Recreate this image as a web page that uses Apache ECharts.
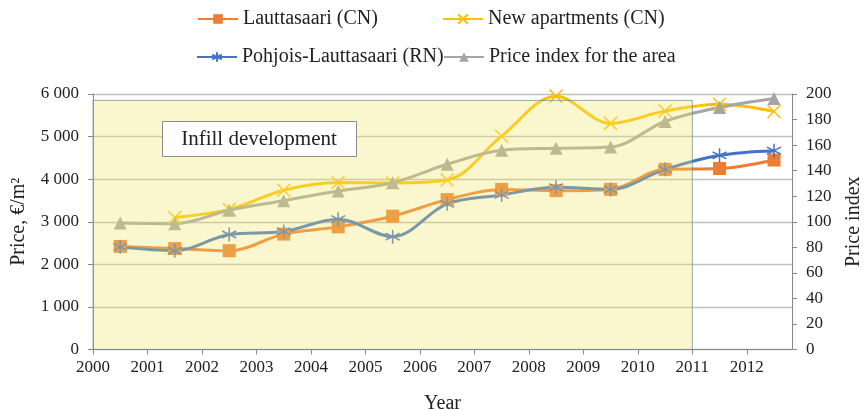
<!DOCTYPE html>
<html>
<head>
<meta charset="utf-8">
<script src="https://cdn.jsdelivr.net/npm/echarts@6/dist/echarts.min.js"></script>
<style>html,body{margin:0;padding:0;background:#fff;}#c{width:866px;height:410px;}</style>
</head>
<body>
<div id="c"></div>
<script>
// ---- data ----
const years = [2000.5, 2001.5, 2002.5, 2003.5, 2004.5, 2005.5, 2006.5, 2007.5, 2008.5, 2009.5, 2010.5, 2011.5, 2012.5];
const lauttasaari = [2420, 2370, 2320, 2710, 2880, 3130, 3520, 3760, 3730, 3760, 4230, 4250, 4450];
const newApartments = [null, 3100, 3290, 3740, 3920, 3910, 3980, 5010, 5950, 5310, 5600, 5760, 5590];
const pohjois = [2410, 2320, 2700, 2770, 3060, 2650, 3420, 3630, 3810, 3760, 4230, 4560, 4670];
const priceIndex = [99, 98.5, 109, 116.5, 124, 130.5, 145, 156, 157.5, 158.5, 178.5, 189.5, 196.5];
const seriesNames = ['Lauttasaari (CN)', 'New apartments (CN)', 'Pohjois-Lauttasaari (RN)', 'Price index for the area'];
const shadeYears = [2000, 2011];
const shadePrice = [0, 5850];
const annotation = 'Infill development';
const xTicks = {min: 2000, max: 2012.83, step: 1};
const leftTicks = {min: 0, max: 6000, step: 1000};
const rightTicks = {min: 0, max: 200, step: 20};

const pair = (arr) => years.map((y, i) => [y, arr[i]]);
const font = 'Liberation Serif';
const C = {orange: '#ED7D31', yellow: '#FFC000', blue: '#4472C4', grey: '#A5A5A5'};
const xPath = 'path://M0,0L10,10M10,0L0,10';
const starPath = 'path://M5,0L5,10M0.7,2.5L9.3,7.5M0.7,7.5L9.3,2.5';

const chart = echarts.init(document.getElementById('c'), null, {renderer: 'canvas'});
const lineBase = {type: 'line', smooth: 0.35, z: 2, connectNulls: false};
const legendBase = {textStyle: {fontFamily: font, fontSize: 20, color: '#222'}, itemWidth: 40, itemHeight: 12, selectedMode: false, padding: 0, itemGap: 4};
const titleStyle = {fontFamily: font, fontSize: 20, color: '#222'};
const tickStyle = {fontFamily: font, fontSize: 17, color: '#222'};
chart.setOption({
  animation: false,
  grid: {left: 93, right: 74, top: 94, bottom: 60.5, outerBoundsMode: 'none', containLabel: false},
  legend: [
    Object.assign({data: [seriesNames[0]], left: 197, top: 9}, legendBase),
    Object.assign({data: [seriesNames[1]], left: 442, top: 9}, legendBase),
    Object.assign({data: [seriesNames[2]], left: 196, top: 47}, legendBase),
    Object.assign({data: [seriesNames[3]], left: 443, top: 47}, legendBase)
  ],
  xAxis: {
    type: 'value', min: xTicks.min, max: xTicks.max, interval: xTicks.step,
    name: 'Year', nameLocation: 'middle', nameGap: 44,
    nameTextStyle: titleStyle,
    axisLine: {lineStyle: {color: '#888', width: 1}},
    axisTick: {show: true, length: 5, lineStyle: {color: '#888'}},
    axisLabel: Object.assign({margin: 10, showMaxLabel: false, formatter: v => String(v)}, tickStyle),
    splitLine: {show: false}
  },
  yAxis: [{
    type: 'value', min: leftTicks.min, max: leftTicks.max, interval: leftTicks.step,
    name: 'Price, €/m²', nameLocation: 'middle', nameGap: 64,
    nameTextStyle: titleStyle,
    axisLine: {show: true, lineStyle: {color: '#888'}},
    axisTick: {show: true, length: 5, lineStyle: {color: '#888'}},
    axisLabel: Object.assign({margin: 14,
      formatter: v => String(v).replace(/\B(?=(\d{3})+(?!\d))/g, ' ')}, tickStyle),
    splitLine: {show: true, lineStyle: {color: '#BFBFBF', width: 1.3}}
  }, {
    type: 'value', min: rightTicks.min, max: rightTicks.max, interval: rightTicks.step,
    name: 'Price index', nameLocation: 'middle', nameGap: 52,
    nameTextStyle: titleStyle,
    axisLine: {show: true, lineStyle: {color: '#888'}},
    axisTick: {show: true, length: 5, lineStyle: {color: '#888'}},
    axisLabel: Object.assign({margin: 14}, tickStyle),
    splitLine: {show: false}
  }],
  series: [
    Object.assign({}, lineBase, {name: seriesNames[0], data: pair(lauttasaari), symbol: 'rect', symbolSize: 13,
      lineStyle: {color: C.orange, width: 3}, itemStyle: {color: C.orange}}),
    Object.assign({}, lineBase, {name: seriesNames[1], data: pair(newApartments), symbol: xPath, symbolSize: 13,
      lineStyle: {color: C.yellow, width: 3}, itemStyle: {color: C.yellow, borderColor: C.yellow, borderWidth: 1.5}}),
    Object.assign({}, lineBase, {name: seriesNames[2], data: pair(pohjois), symbol: starPath, symbolSize: 14,
      lineStyle: {color: C.blue, width: 3}, itemStyle: {color: C.blue, borderColor: C.blue, borderWidth: 1.5}}),
    Object.assign({}, lineBase, {name: seriesNames[3], data: pair(priceIndex), yAxisIndex: 1, symbol: 'triangle', symbolSize: 13,
      lineStyle: {color: C.grey, width: 3}, itemStyle: {color: C.grey}}),
    {
      type: 'custom', name: 'shade', z: 10, silent: true,
      data: [[shadeYears[0], shadePrice[0], shadeYears[1], shadePrice[1]]],
      encode: {x: [0, 2], y: [1, 3]},
      renderItem: (params, api) => {
        const p0 = api.coord([api.value(0), api.value(1)]);
        const p1 = api.coord([api.value(2), api.value(3)]);
        return {type: 'rect', shape: {x: p0[0], y: p1[1], width: p1[0] - p0[0], height: p0[1] - p1[1]},
          style: {fill: 'rgba(240,232,110,0.33)', stroke: 'rgba(110,140,140,0.75)', lineWidth: 1}};
      }
    }
  ],
  graphic: [
    {type: 'rect', left: 162, top: 121, z: 200, zlevel: 1, shape: {x: 0, y: 0, width: 194, height: 35}, style: {fill: '#fff', stroke: '#8c8c8c', lineWidth: 1}},
    {type: 'text', x: 259, y: 139, z: 201, zlevel: 1, style: {text: annotation, fontFamily: font, fontSize: 21, fill: '#222', align: 'center', verticalAlign: 'middle'}}
  ]
});
</script>
</body>
</html>
